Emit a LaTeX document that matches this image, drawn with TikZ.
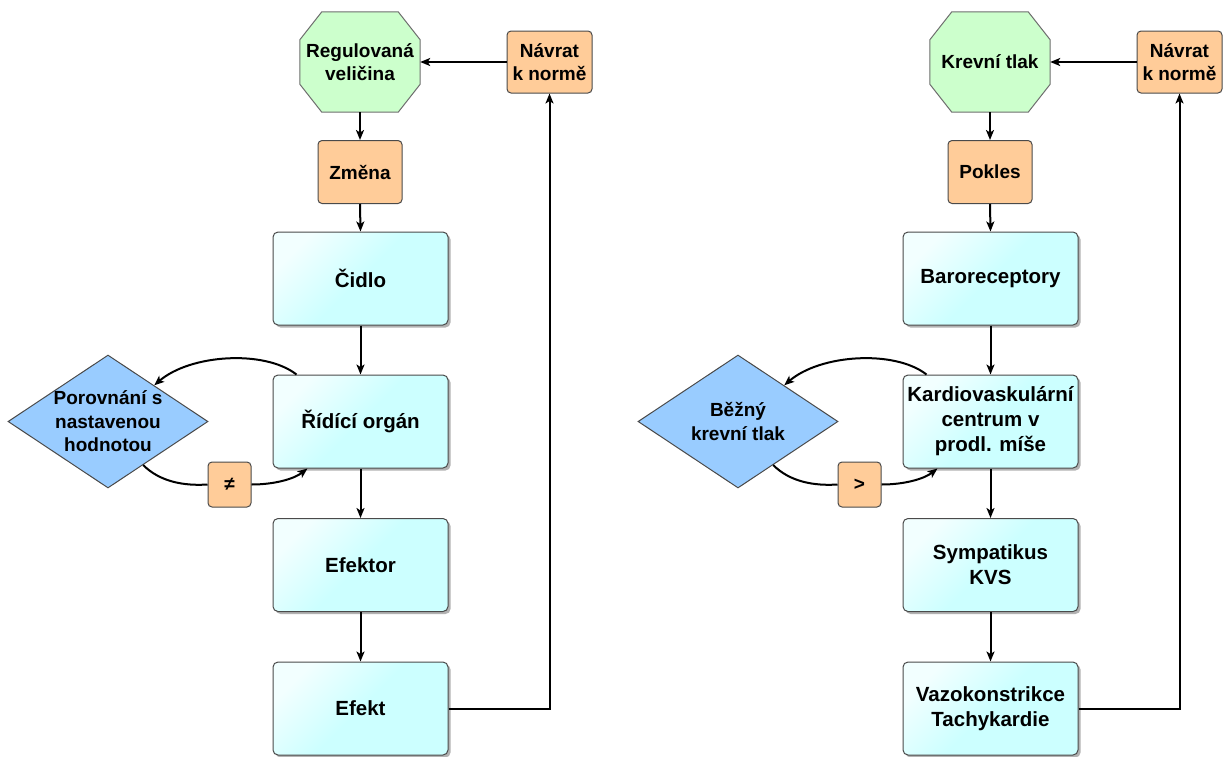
\documentclass[tikz,border=0pt]{standalone}
\usepackage{fontspec}
\setmainfont{Liberation Sans}
\usetikzlibrary{shapes.geometric,shadows,calc,arrows.meta,backgrounds}

\definecolor{edgegray}{HTML}{4A4A4A}
\definecolor{octfill}{HTML}{CCFFCC}
\definecolor{octline}{HTML}{6E6E6E}
\definecolor{tagfill}{HTML}{FFCC99}
\definecolor{cyanbox}{HTML}{CCFFFF}
\definecolor{cyanhi}{HTML}{F2FFFF}
\definecolor{diafill}{HTML}{99CCFF}

% octagon with cut corners drawn around a node of 120 x 100
\newcommand{\octoutline}[1]{%
  \draw[octshape]
    ($(#1.north west)+(22,0)$) -- ($(#1.north east)+(-22,0)$) --
    ($(#1.north east)+(0,28)$) -- ($(#1.south east)+(0,-28)$) --
    ($(#1.south east)+(-22,0)$) -- ($(#1.south west)+(22,0)$) --
    ($(#1.south west)+(0,-28)$) -- ($(#1.north west)+(0,28)$) -- cycle;}

\begin{document}
\begin{tikzpicture}[x=1pt,y=-1pt,
  every node/.style={font=\fontsize{19}{23.5}\selectfont\bfseries, align=center, inner sep=0pt},
  base/.style={draw=edgegray, line width=1pt},
  procbox/.style={base, rounded corners=5pt, minimum width=175pt, minimum height=93pt,
    font=\fontsize{20.5}{25}\selectfont\bfseries,
    top color=cyanhi, bottom color=cyanbox, middle color=cyanbox, shading angle=45,
    drop shadow={shadow xshift=2.5pt, shadow yshift=-2.5pt, opacity=0.3, fill=black}},
  tagbox/.style={base, rounded corners=4pt, fill=tagfill},
  octnode/.style={minimum width=120pt, minimum height=100pt},
  octshape/.style={draw=octline, fill=octfill, line width=1pt},
  dianode/.style={base, fill=diafill, diamond, aspect=1.5, inner sep=-3pt,
    minimum width=200pt, minimum height=133pt},
  link/.style={line width=2pt},
  flow/.style={link, -{Stealth[length=10pt,width=8pt,inset=2.5pt]}},
]
\useasboundingbox (0,0) rectangle (1226,756);

% ---------- general control loop ----------
\node[octnode] (reg) at (360,62) {Regulovaná\\veličina};
\node[tagbox, minimum width=85pt, minimum height=62pt] (navA) at (549.5,62) {Návrat\\k normě};
\node[tagbox, minimum width=84pt, minimum height=63pt] (zmena) at (360,172) {Změna};
\node[procbox] (cidlo) at (360.5,278.5) {Čidlo};
\node[procbox] (ridici) at (360.5,421.5) {Řídící orgán};
\node[procbox] (efektor) at (360.5,565) {Efektor};
\node[procbox] (efekt) at (360.5,708.5) {Efekt};
\node[dianode] (porov) at (108,421.5) {Porovnání s\\nastavenou\\hodnotou};
\node[tagbox, minimum width=43pt, minimum height=45pt] (neq) at (229.5,484.5) {≠};

\draw[flow] (reg.south) -- (zmena.north);
\draw[flow] (zmena.south) -- (cidlo.north);
\draw[flow] (cidlo.south) -- (ridici.north);
\draw[flow] (ridici.south) -- (efektor.north);
\draw[flow] (efektor.south) -- (efekt.north);
\draw[flow] (efekt.east) -| (navA.south);
\draw[flow] (navA.west) -- (reg.east);

\coordinate (ridTop) at ($(ridici.north west)+(24,0)$);
\coordinate (ridBot) at ($(ridici.south west)+(35,0)$);
\coordinate (porIn) at ($(porov.north)!0.46!(porov.east)$);
\coordinate (porOut) at ($(porov.south)!0.35!(porov.east)$);
\draw[flow] (ridTop) .. controls +(-32,-25) and +(36,-31) .. (porIn);
\draw[link] (porOut) .. controls +(17,17) and +(-23,1.5) .. (neq.west);
\draw[flow] (neq.east) .. controls +(24,0) and +(-13,10) .. (ridBot);

% ---------- blood pressure example ----------
\node[octnode] (tlak) at (990,62) {Krevní tlak};
\node[tagbox, minimum width=85pt, minimum height=62pt] (navB) at (1179.5,62) {Návrat\\k normě};
\node[tagbox, minimum width=84pt, minimum height=63pt] (pokles) at (990,172) {Pokles};
\node[procbox] (baro) at (990.5,278.5) {Baroreceptory};
\node[procbox] (kardio) at (990.5,421.5) {Kardiovaskulární\\centrum v\\prodl. míše};
\node[procbox] (symp) at (990.5,565) {Sympatikus\\KVS};
\node[procbox] (vazo) at (990.5,708.5) {Vazokonstrikce\\Tachykardie};
\node[dianode] (bezny) at (738,421.5) {Běžný\\krevní tlak};
\node[tagbox, minimum width=43pt, minimum height=45pt] (gt) at (859.5,484.5) {>};

\draw[flow] (tlak.south) -- (pokles.north);
\draw[flow] (pokles.south) -- (baro.north);
\draw[flow] (baro.south) -- (kardio.north);
\draw[flow] (kardio.south) -- (symp.north);
\draw[flow] (symp.south) -- (vazo.north);
\draw[flow] (vazo.east) -| (navB.south);
\draw[flow] (navB.west) -- (tlak.east);

\coordinate (karTop) at ($(kardio.north west)+(24,0)$);
\coordinate (karBot) at ($(kardio.south west)+(35,0)$);
\coordinate (bezIn) at ($(bezny.north)!0.46!(bezny.east)$);
\coordinate (bezOut) at ($(bezny.south)!0.35!(bezny.east)$);
\draw[flow] (karTop) .. controls +(-32,-25) and +(36,-31) .. (bezIn);
\draw[link] (bezOut) .. controls +(17,17) and +(-23,1.5) .. (gt.west);
\draw[flow] (gt.east) .. controls +(24,0) and +(-13,10) .. (karBot);

% octagon outlines behind their labels
\begin{scope}[on background layer]
  \octoutline{reg}
  \octoutline{tlak}
\end{scope}
\end{tikzpicture}
\end{document}
